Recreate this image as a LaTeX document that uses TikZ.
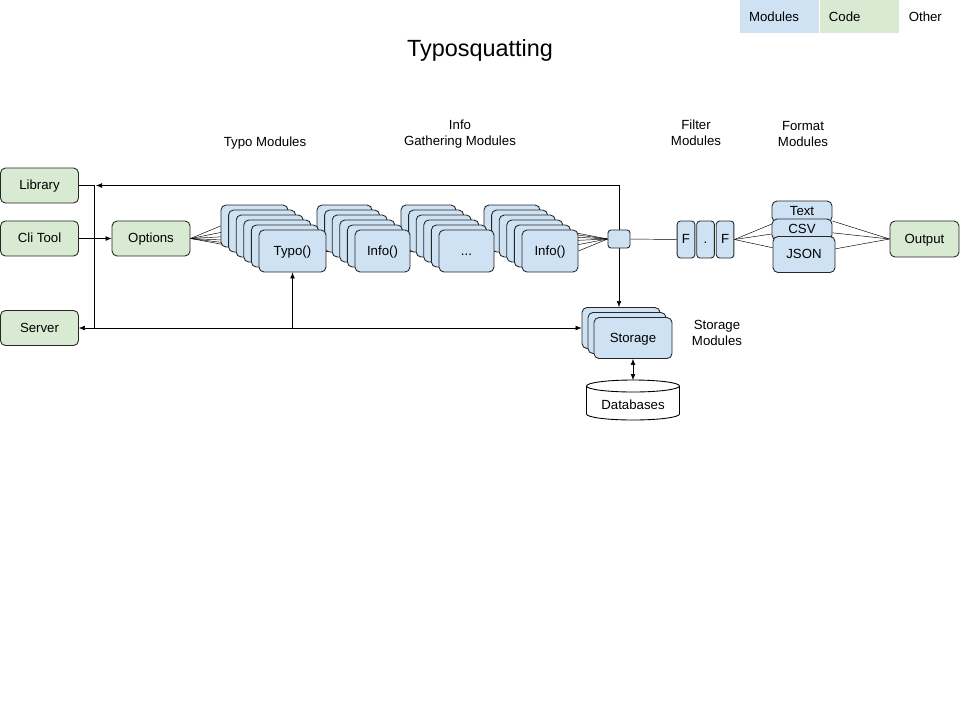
\documentclass[tikz,border=0pt]{standalone}
\usepackage{fontspec}
\setmainfont{Liberation Sans}
\usetikzlibrary{positioning}
\usetikzlibrary{arrows.meta}
\usetikzlibrary{backgrounds}
\usetikzlibrary{math}

\definecolor{modblue}{HTML}{CFE2F3}
\definecolor{codegreen}{HTML}{D9EAD3}

\newcommand{\dotstext}{...}

\tikzset{
  txt/.style={font=\fontsize{11.3}{13.6}\selectfont},
  box/.style={txt, draw=black!85, rounded corners=0.15cm, inner sep=0pt, text height=1.4ex, text depth=0pt},
  module/.style={box, fill=modblue},
  code/.style={box, fill=codegreen, minimum width=2.34cm, minimum height=1.05cm},
  heading/.style={txt, align=center},
  legendkey/.style={txt, minimum height=0.99cm, text width=1.83cm, inner xsep=0.27cm, align=left},
  fbox/.style={module, minimum width=0.53cm, minimum height=1.11cm, rounded corners=0.1cm},
}

\begin{document}
\begin{tikzpicture}[x=0.03cm, y=-0.03cm, line width=0.75pt, >={Latex[length=1.8mm, width=1.4mm]}]

  \tikzmath{
    \dx = 7.6; % shift of each layer in a stack
    \dy = 5;   % drop of each layer in a stack
  }

  \useasboundingbox (0,0) rectangle (960,720);

  % legend
  \node[legendkey, fill=modblue] (keymod) at (779.5,16.5) {Modules};
  \node[legendkey, fill=codegreen, right=0pt of keymod] (keycode) {Code};
  \node[legendkey, right=0pt of keycode] (keyother) {Other};

  % title and headings
  \node[font=\fontsize{20}{24}\selectfont] (title) at (480,50) {Typosquatting};
  \node[heading] (typohead) at (265,143) {Typo Modules};
  \node[heading] (infohead) at (460,134) {Info\\Gathering Modules};
  \node[heading] (filterhead) at (696,133) {Filter\\Modules};
  \node[heading] (formathead) at (803,134) {Format\\Modules};
  \node[heading] (storehead) at (717,333) {Storage\\Modules};

  % entry points
  \node[code] (library) at (39.5,185.5) {Library};
  \node[code] (cli) at (39.5,238.5) {Cli Tool};
  \node[code] (server) at (39.5,328) {Server};
  \node[code, right=0.98cm of cli] (options) {Options};

  % module stacks, drawn right to left, back to front
  \foreach \stack/\cx/\w/\lbl in {infoB/550/56/Info(), dots/466.5/55/\dotstext,
                                  infoA/382.5/55/Info(), typo/292.5/67/Typo()}{
    \foreach \i in {1,...,6}{
      \node[module, minimum width=\w*0.03cm, minimum height=1.26cm] (\stack-\i)
        at ({\cx-\dx*(6-\i)}, {251-\dy*(6-\i)}) {\ifnum\i=6 \lbl\fi};
    }
  }

  % collector
  \node[module, minimum width=0.66cm, minimum height=0.54cm, rounded corners=0.09cm] (hub) at (619,239) {};

  % filters
  \node[fbox] (f1) at (686,239.5) {F};
  \node[fbox, right=0.03cm of f1] (f2) {.};
  \node[fbox, right=0.03cm of f2] (f3) {F};

  % formats
  \node[module, minimum width=1.8cm, minimum height=0.63cm] (fmttext) at (802,211.5) {Text};
  \node[module, minimum width=1.8cm, minimum height=0.63cm] (fmtcsv) at (802,229.5) {CSV};
  \node[module, minimum width=1.86cm, minimum height=1.08cm] (fmtjson) at (804,254.5) {JSON};
  \node[code, minimum width=2.07cm, minimum height=1.08cm] (output) at (924.5,239) {Output};

  % storage
  \foreach \i in {1,2,3}{
    \node[module, minimum width=2.34cm, minimum height=1.23cm] (stor-\i)
      at ({621+6*(\i-1)}, {328+5*(\i-1)}) {\ifnum\i=3 Storage\fi};
  }

  % database cylinder
  \draw[fill=white] (586.5,386) -- (586.5,414)
    arc[start angle=180, end angle=0, x radius=46.5, y radius=6] -- (679.5,386);
  \draw[fill=white] (633,386) ellipse [x radius=46.5, y radius=6];
  \node[txt] (db) at (633,405) {Databases};
  \coordinate (dbtop) at (633,380);

  % junctions
  \coordinate (jtop) at (94,185.5);
  \coordinate (jbot) at (94,328);
  \coordinate (libin) at (96,185.5);
  \coordinate (tap) at (typo-6.south |- server.east);

  \begin{scope}[on background layer]
    \fill[white] (0,0) rectangle (960,720);

    % feedback to the callers
    \draw[->] (cli) -- (options);
    \draw (library) -- (jtop) -- (jbot);
    \draw[->] (hub) |- (libin);
    \draw[<->] (server) -- (server -| stor-1.west);
    \draw[->] (tap) -- (typo-6);
    \draw[->] (hub) -- (hub |- stor-1.north);
    \draw[<->] (stor-3) -- (dbtop);
    \draw (hub) -- (f1);

    % pipeline through the stacks
    \foreach \i in {1,...,6}{
      \draw (options.east) -- (typo-\i.west);
      \draw (typo-\i) -- (infoA-\i);
      \draw (infoA-\i) -- (dots-\i);
      \draw (dots-\i) -- (infoB-\i);
      \draw (infoB-\i.east) -- (hub.west);
    }

    \foreach \fmt in {fmttext,fmtcsv,fmtjson}{
      \draw (f3.east) -- (\fmt);
      \draw (\fmt) -- (output.west);
    }
  \end{scope}

\end{tikzpicture}
\end{document}
